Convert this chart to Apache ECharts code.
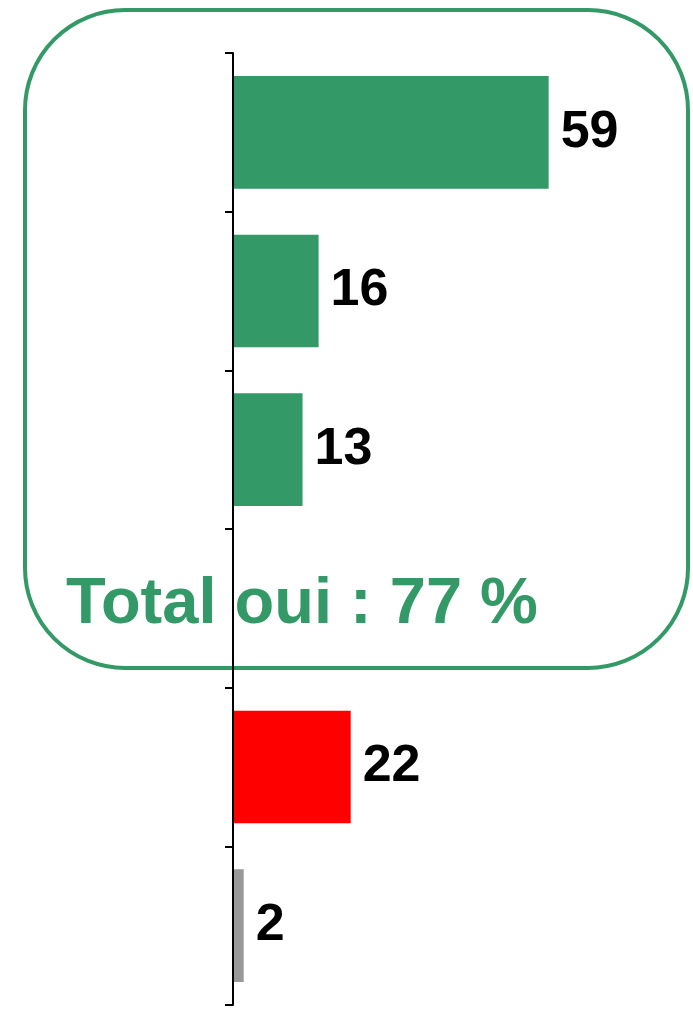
<!DOCTYPE html>
<html>
<head>
<meta charset="utf-8">
<script src="https://cdn.jsdelivr.net/npm/echarts@6/dist/echarts.min.js"></script>
<style>
  html, body { margin: 0; padding: 0; background: #fff; }
  #chart { width: 693px; height: 1011px; }
</style>
</head>
<body>
<div id="chart"></div>
<script>
let categories = ['Oui, tout à fait', 'Oui, plutôt', 'Oui, un peu', '', 'Non', 'Ne sait pas'];
let values = [59, 16, 13, null, 22, 2];
let barColors = ['#339966', '#339966', '#339966', '#339966', '#ff0000', '#999999'];
let totalText = 'Total oui : 77 %';

let green = '#339966';
let chart = echarts.init(document.getElementById('chart'));

let option = {
  animation: false,
  backgroundColor: '#ffffff',
  grid: { left: 233, top: 53, width: 428, height: 952 },
  xAxis: {
    type: 'value',
    min: 0,
    max: 80,
    show: false
  },
  yAxis: {
    type: 'category',
    data: categories,
    inverse: true,
    axisLine: { show: true, lineStyle: { color: '#000', width: 2 } },
    axisTick: { show: true, length: 8, lineStyle: { color: '#000', width: 2 } },
    axisLabel: { show: false },
    z: 5
  },
  series: [{
    type: 'bar',
    barCategoryGap: '29%',
    data: values.map(function (v, i) {
      return { value: v, itemStyle: { color: barColors[i] } };
    }),
    label: {
      show: true,
      position: 'right',
      distance: 12,
      color: '#000',
      fontFamily: 'Liberation Sans, Arial, sans-serif',
      fontWeight: 'bold',
      fontSize: 52
    }
  }],
  graphic: [
    {
      type: 'rect',
      z: 0,
      shape: { x: 25, y: 10, width: 663, height: 658, r: 100 },
      style: { fill: 'none', stroke: green, lineWidth: 4 }
    },
    {
      type: 'text',
      z: 0,
      left: 66,
      top: 573,
      style: {
        text: totalText,
        fill: green,
        fontFamily: 'Liberation Sans, Arial, sans-serif',
        fontWeight: 'bold',
        fontSize: 65
      }
    }
  ]
};

chart.setOption(option);
</script>
</body>
</html>
